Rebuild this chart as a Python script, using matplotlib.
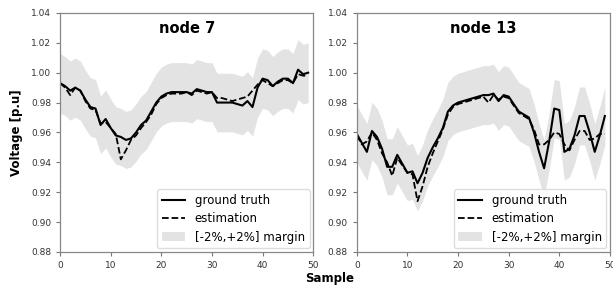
import numpy as np
import matplotlib
matplotlib.use('Agg')
import matplotlib.pyplot as plt

# Data (samples 0..49)
sample = np.arange(50)

node7_truth = [0.993, 0.991, 0.988, 0.990, 0.988, 0.982, 0.977, 0.976, 0.965, 0.969,
               0.963, 0.958, 0.957, 0.955, 0.956, 0.960, 0.965, 0.968, 0.974, 0.980,
               0.984, 0.986, 0.987, 0.987, 0.987, 0.987, 0.986, 0.989, 0.988, 0.987,
               0.987, 0.980, 0.980, 0.980, 0.980, 0.979, 0.978, 0.981, 0.977, 0.990,
               0.996, 0.995, 0.991, 0.994, 0.996, 0.996, 0.993, 1.002, 0.999, 1.000]
node7_est = [0.993, 0.990, 0.985, 0.990, 0.988, 0.981, 0.976, 0.975, 0.966, 0.967,
             0.963, 0.959, 0.942, 0.948, 0.955, 0.958, 0.963, 0.967, 0.972, 0.979,
             0.983, 0.985, 0.986, 0.986, 0.986, 0.987, 0.985, 0.988, 0.987, 0.986,
             0.987, 0.983, 0.983, 0.982, 0.981, 0.982, 0.983, 0.984, 0.988, 0.992,
             0.995, 0.993, 0.991, 0.993, 0.995, 0.995, 0.993, 0.999, 0.998, 0.998]

node13_truth = [0.959, 0.953, 0.947, 0.961, 0.957, 0.949, 0.937, 0.937, 0.945, 0.939,
                0.933, 0.934, 0.926, 0.933, 0.943, 0.950, 0.956, 0.963, 0.974, 0.978,
                0.980, 0.981, 0.982, 0.983, 0.984, 0.985, 0.985, 0.986, 0.981, 0.985,
                0.984, 0.979, 0.974, 0.972, 0.970, 0.960, 0.947, 0.936, 0.954, 0.976,
                0.975, 0.947, 0.949, 0.958, 0.971, 0.971, 0.960, 0.947, 0.958, 0.971]
node13_est = [0.958, 0.952, 0.954, 0.960, 0.955, 0.946, 0.940, 0.931, 0.943, 0.938,
              0.933, 0.932, 0.914, 0.924, 0.937, 0.946, 0.954, 0.962, 0.972, 0.977,
              0.979, 0.980, 0.981, 0.982, 0.983, 0.984, 0.980, 0.985, 0.982, 0.984,
              0.983, 0.978, 0.973, 0.971, 0.969, 0.962, 0.952, 0.952, 0.955, 0.960,
              0.959, 0.952, 0.948, 0.955, 0.961, 0.961, 0.955, 0.956, 0.959, 0.959]

titles = ['node 7', 'node 13']
margin = 0.02

plt.rcParams['font.family'] = 'DejaVu Sans'

fig = plt.figure(figsize=(6.13, 2.87), dpi=100)
ax1 = fig.add_axes([0.098, 0.122, 0.413, 0.833])
ax2 = fig.add_axes([0.582, 0.122, 0.413, 0.833])

for ax, truth, est, ttl in zip([ax1, ax2], [node7_truth, node13_truth],
                               [node7_est, node13_est], titles):
    truth = np.array(truth)
    ax.fill_between(sample, truth * (1 - margin), truth * (1 + margin),
                    color='#e3e3e3', linewidth=0, label='[-2%,+2%] margin')
    ax.plot(sample, truth, color='black', linestyle='-', linewidth=1.5,
            label='ground truth')
    ax.plot(sample, est, color='black', linestyle='--', linewidth=1.3,
            label='estimation')

    ax.set_xlim(0, 50)
    ax.set_ylim(0.88, 1.04)
    ax.set_xticks([0, 10, 20, 30, 40, 50])
    ax.set_yticks(np.arange(0.88, 1.041, 0.02))
    ax.yaxis.set_major_formatter(plt.FormatStrFormatter('%.2f'))
    ax.tick_params(labelsize=6.5, colors='#777777', labelcolor='#333333',
                   length=3, width=0.8)
    for sp in ax.spines.values():
        sp.set_color('#888888')
        sp.set_linewidth(0.9)

    ax.text(0.5, 0.935, ttl, transform=ax.transAxes, ha='center', va='center',
            fontsize=10.5, fontweight='bold')

    h, l = ax.get_legend_handles_labels()
    order = [1, 2, 0]
    ax.legend([h[k] for k in order], [l[k] for k in order], loc='lower right',
              fontsize=8.5, framealpha=1, edgecolor='#dddddd',
              borderaxespad=0.3, labelspacing=0.45)

ax1.set_ylabel('Voltage [p.u]', fontsize=8.5, fontweight='bold', labelpad=6)
fig.text(0.538, 0.03, 'Sample', ha='center', va='center',
         fontsize=8.5, fontweight='bold')

plt.savefig('out.png', dpi=100)
